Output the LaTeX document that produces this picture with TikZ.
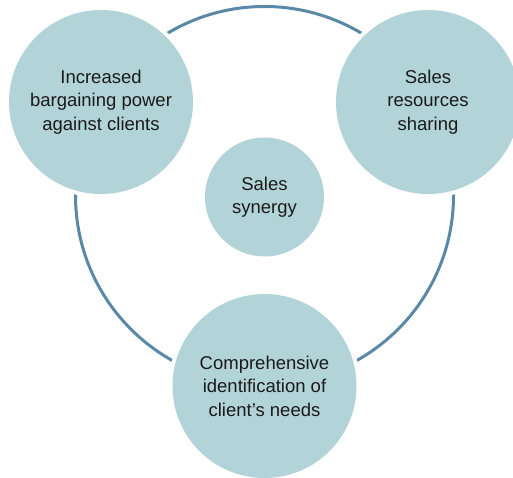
\documentclass[tikz,border=0pt]{standalone}
\usepackage{fontspec}
\setmainfont{Liberation Sans}
\definecolor{ringblue}{HTML}{5A89A8}
\definecolor{bubble}{HTML}{B2D4D8}
\definecolor{txt}{HTML}{1A1A1A}
\begin{document}
\begin{tikzpicture}[x=1pt,y=-1pt,
  bubblenode/.style={circle,fill=bubble,inner sep=0pt,minimum size=#1,
    text=txt,align=center,font=\fontsize{18.5}{23.5}\selectfont},
  gapring/.style={fill=white}]
\useasboundingbox (0,0) rectangle (513,478);
% outer ring
\draw[ringblue,line width=3pt] (264.5,195.5) circle[radius=189];
% white gaps around the big bubbles
\fill[gapring] (101,102) circle[radius=96];
\fill[gapring] (428,102) circle[radius=96];
\fill[gapring] (264.5,386) circle[radius=96];
% bubbles
\node[bubblenode=184pt] (a) at (101,102) {Increased\\bargaining power\\against clients};
\node[bubblenode=184pt] (b) at (428,102) {Sales\\resources\\sharing};
\node[bubblenode=184pt] (c) at (264.5,386) {Comprehensive\\identification of\\client’s needs};
\node[bubblenode=119pt] (d) at (264.5,197) {Sales\\synergy};
\end{tikzpicture}
\end{document}
